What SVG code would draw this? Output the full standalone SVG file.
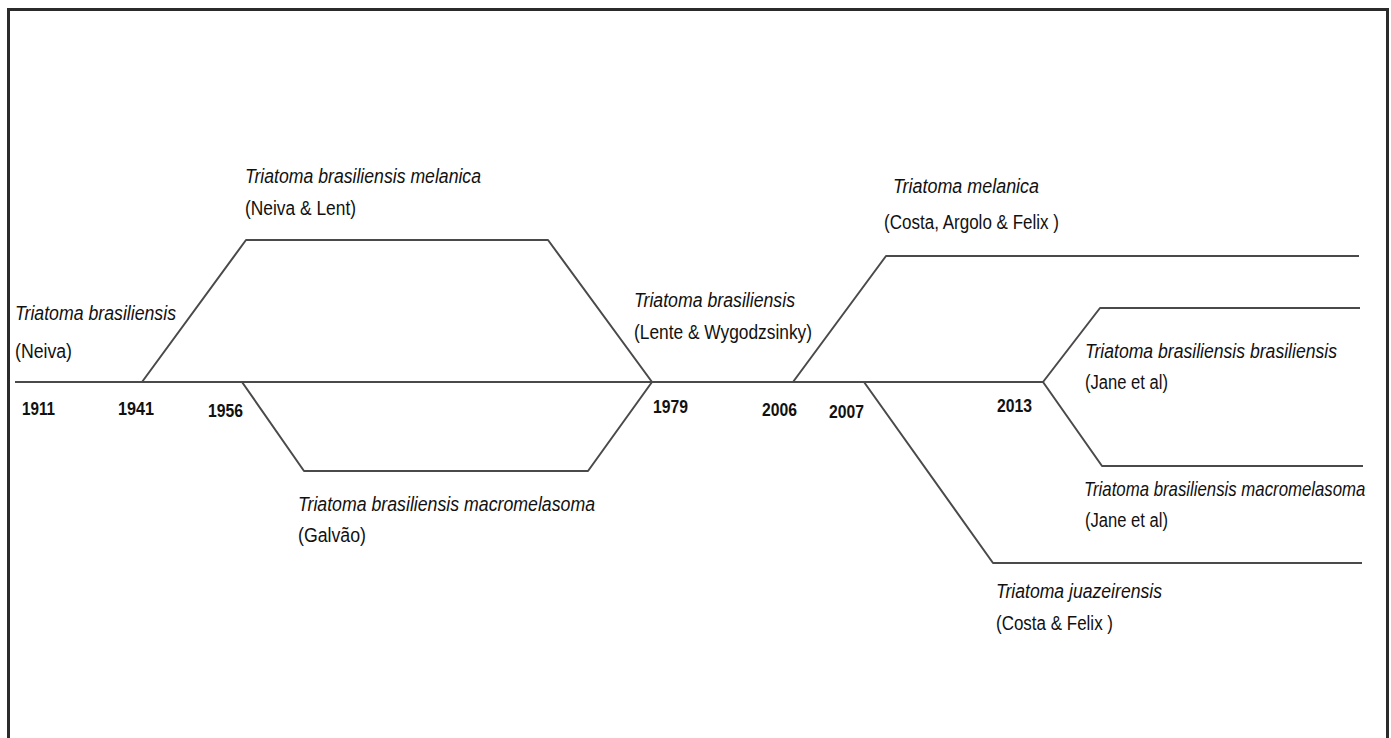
<svg xmlns="http://www.w3.org/2000/svg" width="1391" height="738" viewBox="0 0 1391 738">
<style>
.t{font-family:"Liberation Sans","DejaVu Sans",sans-serif;font-size:20px;fill:#111}
.i{font-style:italic}
.y{font-weight:bold;font-size:18px}
.c{fill:none;stroke:#4a4a4a;stroke-width:2;stroke-linejoin:round}
</style>
<rect x="0" y="0" width="1391" height="738" fill="#fff"/>
<path d="M8.5 745 V9.5 H1387.5 V745" fill="none" stroke="#2b2b2b" stroke-width="3"/>
<g id="connectors">
<path class="c" d="M15 382 H1043"/>
<path class="c" d="M142 382 L246 240 H548 L652 382"/>
<path class="c" d="M242 382 L304 471 H588 L652 382"/>
<path class="c" d="M793 382 L886 256 H1359"/>
<path class="c" d="M864 382 L993 563 H1362"/>
<path class="c" d="M1043 382 L1100 308 H1360"/>
<path class="c" d="M1043 382 L1102 466 H1363"/>
</g>
<g id="node-1911">
<text class="t i" x="15" y="320" textLength="161" lengthAdjust="spacingAndGlyphs">Triatoma brasiliensis</text>
<text class="t" x="15" y="358" textLength="57" lengthAdjust="spacingAndGlyphs">(Neiva)</text>
<text class="t y" x="22" y="415" textLength="33" lengthAdjust="spacingAndGlyphs">1911</text>
</g>
<g id="node-1941">
<text class="t y" x="118" y="415" textLength="36" lengthAdjust="spacingAndGlyphs">1941</text>
<text class="t i" x="245" y="183" textLength="236" lengthAdjust="spacingAndGlyphs">Triatoma brasiliensis melanica</text>
<text class="t" x="245" y="215" textLength="111" lengthAdjust="spacingAndGlyphs">(Neiva &amp; Lent)</text>
</g>
<g id="node-1956">
<text class="t y" x="208" y="417" textLength="35" lengthAdjust="spacingAndGlyphs">1956</text>
<text class="t i" x="298" y="511" textLength="297" lengthAdjust="spacingAndGlyphs">Triatoma brasiliensis macromelasoma</text>
<text class="t" x="298" y="542" textLength="68" lengthAdjust="spacingAndGlyphs">(Galvão)</text>
</g>
<g id="node-1979">
<text class="t y" x="653" y="413" textLength="35" lengthAdjust="spacingAndGlyphs">1979</text>
<text class="t i" x="634" y="307" textLength="161" lengthAdjust="spacingAndGlyphs">Triatoma brasiliensis</text>
<text class="t" x="634" y="339" textLength="178" lengthAdjust="spacingAndGlyphs">(Lente &amp; Wygodzsinky)</text>
</g>
<g id="node-2006">
<text class="t y" x="762" y="416" textLength="35" lengthAdjust="spacingAndGlyphs">2006</text>
<text class="t i" x="893" y="193" textLength="146" lengthAdjust="spacingAndGlyphs">Triatoma melanica</text>
<text class="t" x="884" y="229" textLength="175" lengthAdjust="spacingAndGlyphs">(Costa, Argolo &amp; Felix )</text>
</g>
<g id="node-2007">
<text class="t y" x="829" y="418" textLength="35" lengthAdjust="spacingAndGlyphs">2007</text>
<text class="t i" x="996" y="598" textLength="166" lengthAdjust="spacingAndGlyphs">Triatoma juazeirensis</text>
<text class="t" x="996" y="630" textLength="117" lengthAdjust="spacingAndGlyphs">(Costa &amp; Felix )</text>
</g>
<g id="node-2013">
<text class="t y" x="997" y="412" textLength="35" lengthAdjust="spacingAndGlyphs">2013</text>
<text class="t i" x="1085" y="358" textLength="252" lengthAdjust="spacingAndGlyphs">Triatoma brasiliensis brasiliensis</text>
<text class="t" x="1085" y="389" textLength="83" lengthAdjust="spacingAndGlyphs">(Jane et al)</text>
<text class="t i" transform="translate(1084 496) scale(0.84 1)" x="0" y="0">Triatoma brasiliensis macromelasoma</text>
<text class="t" x="1085" y="527" textLength="83" lengthAdjust="spacingAndGlyphs">(Jane et al)</text>
</g>
</svg>
